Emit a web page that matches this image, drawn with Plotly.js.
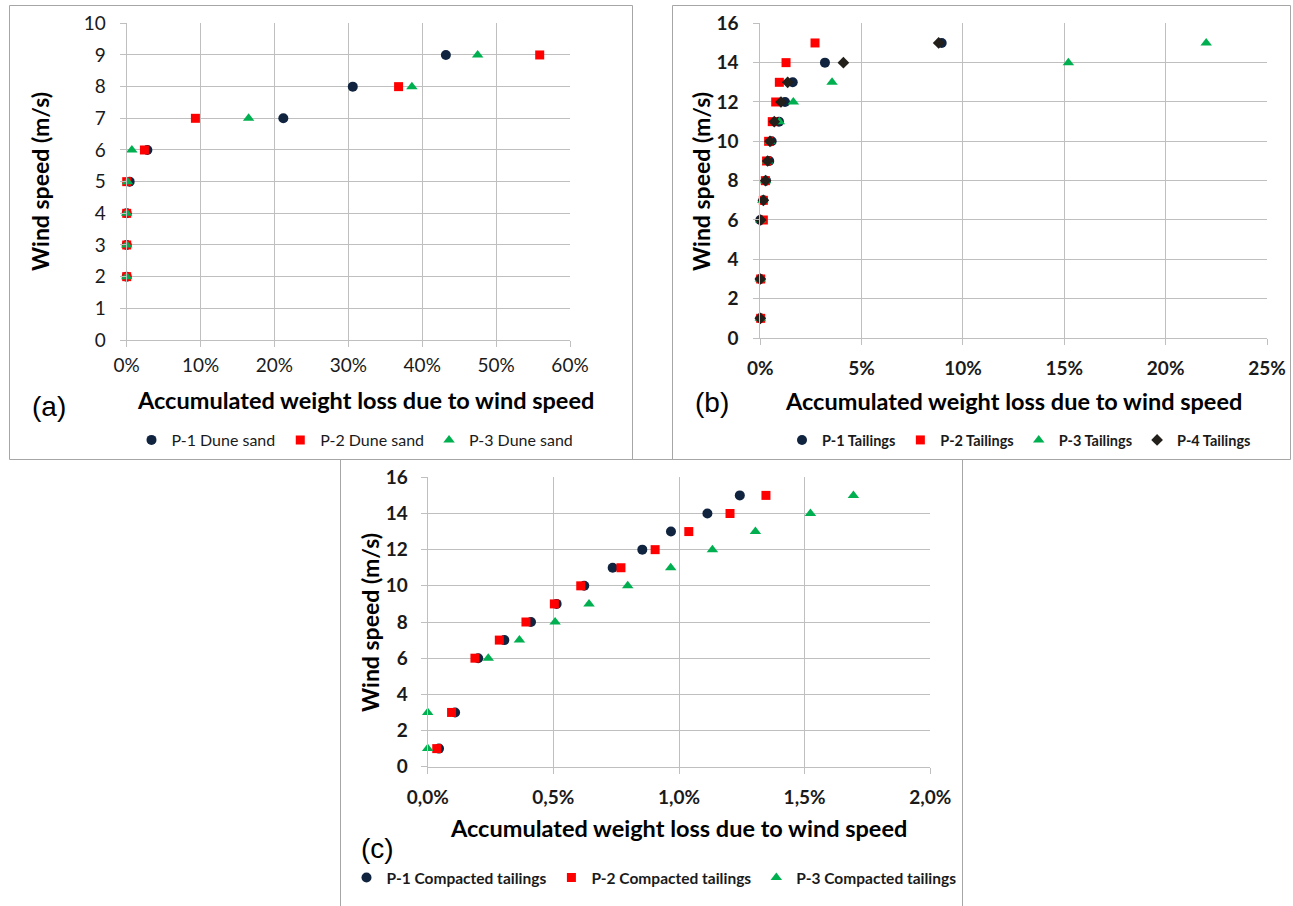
<!DOCTYPE html>
<html>
<head>
<meta charset="utf-8">
<script src="https://cdn.plot.ly/plotly-3.0.1.min.js"></script>
<style>html,body{margin:0;padding:0;background:#fff;}#chart{width:1293px;height:906px;}</style>
</head>
<body>
<div id="chart"></div>
<script>
// ---------- Data ----------
// (a) Dune sand
const speedA = [2, 3, 4, 5, 6, 7, 8, 9];
const p1DuneSand = [0.0, 0.0, 0.0, 0.4, 2.8, 21.2, 30.6, 43.2];
const p2DuneSand = [0.0, 0.0, 0.0, 0.0, 2.4, 9.3, 36.8, 55.9];
const p3DuneSand = [0.0, 0.0, 0.0, 0.1, 0.7, 16.5, 38.6, 47.5];
const namesA = ["P-1 Dune sand", "P-2 Dune sand", "P-3 Dune sand"];

// (b) Tailings
const speedB = [1, 3, 6, 7, 8, 9, 10, 11, 12, 13, 14, 15];
const p1Tailings = [0.0, 0.0, 0.0, 0.15, 0.28, 0.44, 0.56, 0.92, 1.22, 1.6, 3.19, 8.95];
const p2Tailings = [0.02, 0.02, 0.15, 0.15, 0.25, 0.31, 0.41, 0.59, 0.76, 0.94, 1.27, 2.7];
const p3Tailings = [0.0, 0.0, 0.02, 0.12, 0.26, 0.36, 0.48, 0.94, 1.63, 3.54, 15.2, 22.0];
const p4Tailings = [0.0, 0.0, 0.02, 0.15, 0.26, 0.36, 0.48, 0.69, 1.02, 1.35, 4.1, 8.8];
const namesB = ["P-1 Tailings", "P-2 Tailings", "P-3 Tailings", "P-4 Tailings"];

// (c) Compacted tailings
const speedC = [1, 3, 6, 7, 8, 9, 10, 11, 12, 13, 14, 15];
const p1Compacted = [0.045, 0.109, 0.201, 0.305, 0.411, 0.513, 0.623, 0.736, 0.854, 0.968, 1.113, 1.242];
const p2Compacted = [0.036, 0.095, 0.188, 0.285, 0.391, 0.504, 0.609, 0.769, 0.905, 1.039, 1.203, 1.346];
const p3Compacted = [0.0, 0.0, 0.241, 0.365, 0.507, 0.642, 0.796, 0.967, 1.133, 1.304, 1.523, 1.694];
const namesC = ["P-1 Compacted tailings", "P-2 Compacted tailings", "P-3 Compacted tailings"];

const xTitle = "Accumulated weight loss due to wind speed";
const yTitle = "Wind speed (m/s)";
const panelLabels = ["(a)", "(b)", "(c)"];

// ---------- Styles ----------
const W = 1293, H = 906;
const px = v => v / W;
const py = v => 1 - v / H;
const NAVY = "#10233f", RED = "#ff0000", GREEN = "#00b050", DARK = "#231f1a";
const GRID = "#bfbfbf", FRAME = "#a6a6a6";
const FONT = "Lato, 'Open Sans', sans-serif";

const mk = {
  circle: {symbol: "circle", color: NAVY, size: 10},
  square: {symbol: "square", color: RED, size: 9},
  triangle: {symbol: "triangle-up", color: GREEN, size: 10},
  diamond: {symbol: "diamond", color: DARK, size: 9}
};

function tr(x, y, name, marker, xa, ya, leg) {
  return {type: "scatter", mode: "markers", x: x, y: y, name: name, marker: marker,
          xaxis: xa, yaxis: ya, legend: leg, cliponaxis: false, hoverinfo: "x+y+name"};
}

const data = [
  tr(p1DuneSand, speedA, namesA[0], mk.circle, "x", "y", "legend"),
  tr(p2DuneSand, speedA, namesA[1], mk.square, "x", "y", "legend"),
  tr(p3DuneSand, speedA, namesA[2], mk.triangle, "x", "y", "legend"),
  tr(p1Tailings, speedB, namesB[0], mk.circle, "x2", "y2", "legend2"),
  tr(p2Tailings, speedB, namesB[1], mk.square, "x2", "y2", "legend2"),
  tr(p3Tailings, speedB, namesB[2], mk.triangle, "x2", "y2", "legend2"),
  tr(p4Tailings, speedB, namesB[3], mk.diamond, "x2", "y2", "legend2"),
  tr(p1Compacted, speedC, namesC[0], mk.circle, "x3", "y3", "legend3"),
  tr(p2Compacted, speedC, namesC[1], mk.square, "x3", "y3", "legend3"),
  tr(p3Compacted, speedC, namesC[2], mk.triangle, "x3", "y3", "legend3")
];

function axis(domain, range, dtick, anchor, bold, extra) {
  return Object.assign({
    domain: domain, range: range, dtick: dtick, anchor: anchor,
    showgrid: true, gridcolor: GRID, gridwidth: 1,
    showline: true, linecolor: GRID, linewidth: 1,
    zeroline: false, ticks: "outside", ticklen: 6, tickcolor: GRID,
    tickfont: {family: FONT, size: 19, color: "#1a1a1a", weight: bold ? "bold" : "normal"},
    fixedrange: true
  }, extra || {});
}

const TITLE_X = {family: FONT, size: 23.5, weight: "bold", color: "#000"};
const TITLE_Y = {family: FONT, size: 23, weight: "bold", color: "#000"};
const PANEL = {family: "Liberation Sans, Arial, sans-serif", size: 28, color: "#000"};

const layout = {
  width: W, height: H,
  margin: {l: 0, r: 0, t: 0, b: 0},
  paper_bgcolor: "#fff", plot_bgcolor: "#fff",
  separators: ",.",
  font: {family: FONT, color: "#000"},
  xaxis: axis([px(126.7), px(570)], [0, 60], 10, "y", false, {ticksuffix: "%", ticklabelstandoff: 2}),
  yaxis: axis([py(340), py(23.3)], [0, 10], 1, "x", false, {ticklabelstandoff: 10}),
  xaxis2: axis([px(760.3), px(1267)], [0, 25], 5, "y2", true, {ticksuffix: "%", ticklabelstandoff: 7}),
  yaxis2: axis([py(338), py(23.3)], [0, 16], 2, "x2", true, {ticklabelstandoff: 11}),
  xaxis3: axis([px(427.7), px(930.3)], [0, 2], 0.5, "y3", true, {ticksuffix: "%", tickformat: ".1f", ticklabelstandoff: 7}),
  yaxis3: axis([py(766.7), py(477.3)], [0, 16], 2, "x3", true, {ticklabelstandoff: 9}),
  legend: {orientation: "h", x: px(355), y: py(440), xanchor: "center", yanchor: "middle",
           font: {family: FONT, size: 16, color: "#1a1a1a"}, bgcolor: "rgba(0,0,0,0)", itemwidth: 30},
  legend2: {orientation: "h", x: px(1019), y: py(440), xanchor: "center", yanchor: "middle",
           font: {family: FONT, size: 14.5, color: "#1a1a1a", weight: "bold"}, bgcolor: "rgba(0,0,0,0)", itemwidth: 30},
  legend3: {orientation: "h", x: px(654), y: py(878), xanchor: "center", yanchor: "middle",
           font: {family: FONT, size: 15.5, color: "#1a1a1a", weight: "bold"}, bgcolor: "rgba(0,0,0,0)", itemwidth: 30},
  shapes: [
    {type: "rect", xref: "paper", yref: "paper", x0: px(9.5), x1: px(632.5), y0: py(459.5), y1: py(5.5), line: {color: FRAME, width: 1}},
    {type: "rect", xref: "paper", yref: "paper", x0: px(672.5), x1: px(1290.5), y0: py(459.5), y1: py(5.5), line: {color: FRAME, width: 1}},
    {type: "rect", xref: "paper", yref: "paper", x0: px(340.5), x1: px(962.5), y0: py(910), y1: py(459.5), line: {color: FRAME, width: 1}}
  ],
  annotations: [
    {text: xTitle, xref: "paper", yref: "paper", x: px(365), y: py(400), showarrow: false, xanchor: "center", yanchor: "middle", font: TITLE_X},
    {text: xTitle, xref: "paper", yref: "paper", x: px(1013), y: py(401), showarrow: false, xanchor: "center", yanchor: "middle", font: TITLE_X},
    {text: xTitle, xref: "paper", yref: "paper", x: px(679), y: py(828), showarrow: false, xanchor: "center", yanchor: "middle", font: TITLE_X},
    {text: yTitle, xref: "paper", yref: "paper", x: px(40), y: py(182), showarrow: false, textangle: -90, xanchor: "center", yanchor: "middle", font: TITLE_Y},
    {text: yTitle, xref: "paper", yref: "paper", x: px(701), y: py(181), showarrow: false, textangle: -90, xanchor: "center", yanchor: "middle", font: TITLE_Y},
    {text: yTitle, xref: "paper", yref: "paper", x: px(370), y: py(623), showarrow: false, textangle: -90, xanchor: "center", yanchor: "middle", font: TITLE_Y},
    {text: panelLabels[0], xref: "paper", yref: "paper", x: px(49), y: py(407), showarrow: false, xanchor: "center", yanchor: "middle", font: PANEL},
    {text: panelLabels[1], xref: "paper", yref: "paper", x: px(712), y: py(402), showarrow: false, xanchor: "center", yanchor: "middle", font: PANEL},
    {text: panelLabels[2], xref: "paper", yref: "paper", x: px(377), y: py(848), showarrow: false, xanchor: "center", yanchor: "middle", font: PANEL}
  ]
};

Plotly.newPlot("chart", data, layout, {displayModeBar: false, staticPlot: true});
</script>
</body>
</html>
